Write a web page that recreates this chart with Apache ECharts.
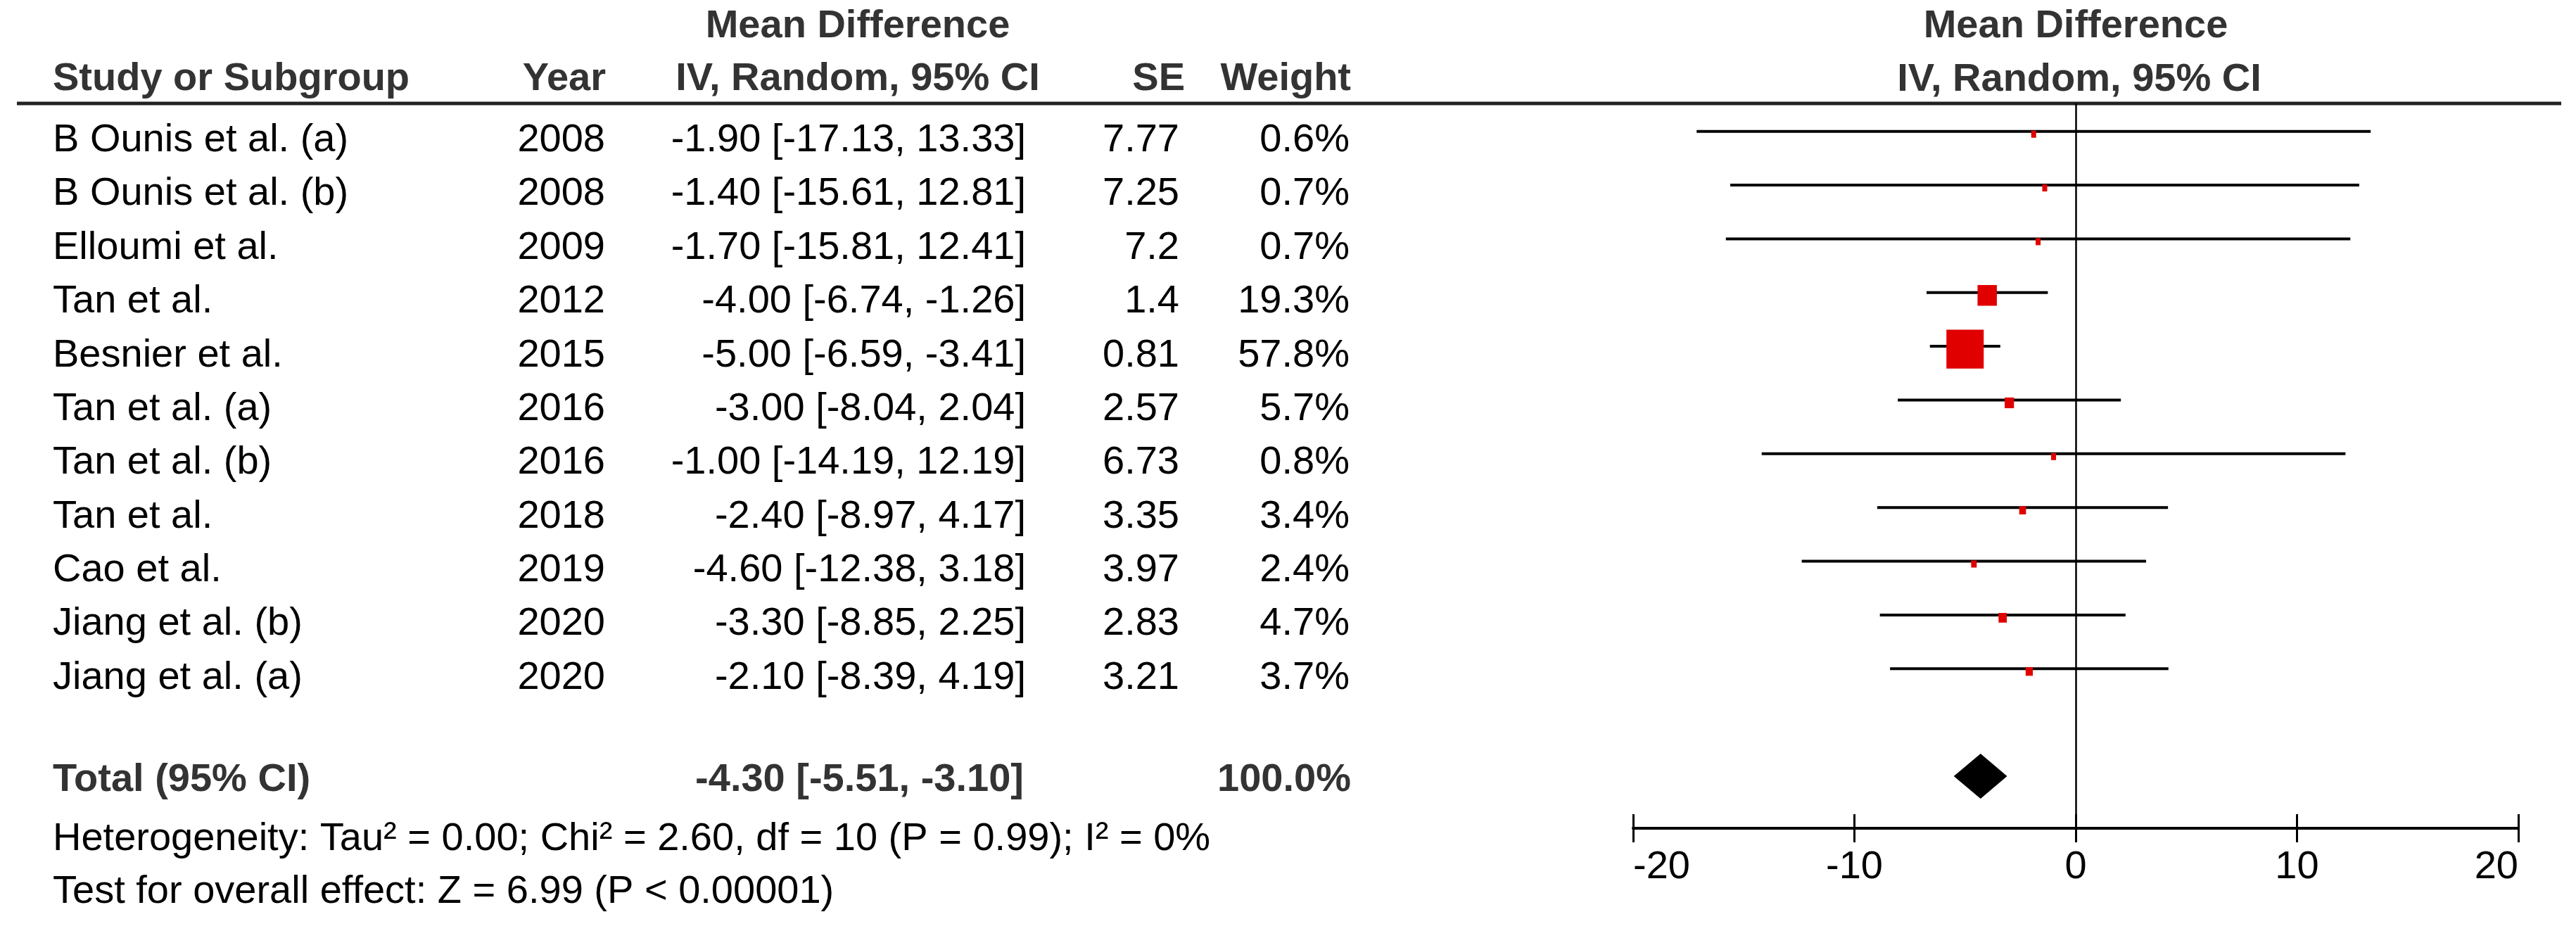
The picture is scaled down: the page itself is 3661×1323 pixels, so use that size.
<!DOCTYPE html>
<html><head><meta charset="utf-8">
<script src="https://cdn.jsdelivr.net/npm/echarts@6/dist/echarts.min.js"></script>
<style>html,body{margin:0;padding:0;background:#fff}#c{width:3661px;height:1323px}</style>
</head><body><div id="c"></div>
<script>
// ---- data ----
const studies = ["B Ounis et al. (a)", "B Ounis et al. (b)", "Elloumi et al.", "Tan et al.", "Besnier et al.", "Tan et al. (a)", "Tan et al. (b)", "Tan et al.", "Cao et al.", "Jiang et al. (b)", "Jiang et al. (a)"];
const years = [2008, 2008, 2009, 2012, 2015, 2016, 2016, 2018, 2019, 2020, 2020];
const meanDiff = [-1.90, -1.40, -1.70, -4.00, -5.00, -3.00, -1.00, -2.40, -4.60, -3.30, -2.10];
const ciLow = [-17.13, -15.61, -15.81, -6.74, -6.59, -8.04, -14.19, -8.97, -12.38, -8.85, -8.39];
const ciHigh = [13.33, 12.81, 12.41, -1.26, -3.41, 2.04, 12.19, 4.17, 3.18, 2.25, 4.19];
const seValues = [7.77, 7.25, 7.2, 1.4, 0.81, 2.57, 6.73, 3.35, 3.97, 2.83, 3.21];
const weights = [0.6, 0.7, 0.7, 19.3, 57.8, 5.7, 0.8, 3.4, 2.4, 4.7, 3.7];
const totalMd = -4.30, totalLo = -5.51, totalHi = -3.10, totalWeight = 100.0;
const totalRow = 12;
const xTickMin = -20, xTickMax = 20, xTickStep = 10;
const headerLeft1 = "Mean Difference";
const headerLeft2 = ["Study or Subgroup", "Year", "IV, Random, 95% CI", "SE", "Weight"];
const headerRight = ["Mean Difference", "IV, Random, 95% CI"];
const totalLabel = "Total (95% CI)";
const heterogeneityText = "Heterogeneity: Tau\u00B2 = 0.00; Chi\u00B2 = 2.60, df = 10 (P = 0.99); I\u00B2 = 0%";
const overallText = "Test for overall effect: Z = 6.99 (P < 0.00001)";

// ---- styles ----
const FF = '"Liberation Sans", Arial, sans-serif';
const FS = 56;
const fontN = FS + 'px ' + FF;
const fontB = 'bold ' + FS + 'px ' + FF;
const ciText = (m, l, h) => m.toFixed(2) + ' [' + l.toFixed(2) + ', ' + h.toFixed(2) + ']';

function txt(x, y, text, align, bold, color) {
  return {type: 'text', x: x, y: y, silent: true,
    style: {text: text, font: bold ? fontB : fontN, fill: color || (bold ? '#333' : '#000'),
      align: align, textAlign: align, verticalAlign: 'middle', textVerticalAlign: 'middle'}};
}

const chart = echarts.init(document.getElementById('c'), null, {renderer: 'canvas'});

const option = {
  backgroundColor: '#fff',
  animation: false,
  grid: {left: 2321, right: 82, top: 147, bottom: 146, containLabel: false},
  xAxis: [{
    type: 'value', min: xTickMin, max: xTickMax, interval: xTickStep, position: 'bottom',
    axisLine: {show: true, onZero: false, lineStyle: {color: '#000', width: 4}},
    axisTick: {show: true, inside: false, length: 20, lineStyle: {color: '#000', width: 3}},
    axisLabel: {show: true, margin: 28, fontSize: FS, fontFamily: FF, color: '#000',
      alignMinLabel: 'left', alignMaxLabel: 'right'},
    splitLine: {show: false}
  }, {
    type: 'value', min: xTickMin, max: xTickMax, interval: xTickStep, position: 'bottom', gridIndex: 0,
    axisLine: {show: false, onZero: false},
    axisTick: {show: true, inside: true, length: 20, lineStyle: {color: '#000', width: 3}},
    axisLabel: {show: false}, splitLine: {show: false}
  }],
  yAxis: {type: 'value', inverse: true, min: -0.52, max: 12.97, show: false,
    axisLine: {onZero: false}},
  graphic: [
    {type: 'line', silent: true, shape: {x1: 24, y1: 147, x2: 3640, y2: 147}, style: {stroke: '#222', lineWidth: 5}},
    txt(1219, 38, headerLeft1, 'center', true),
    txt(75, 113, headerLeft2[0], 'left', true),
    txt(861, 113, headerLeft2[1], 'right', true),
    txt(1219, 113, headerLeft2[2], 'center', true),
    txt(1684, 113, headerLeft2[3], 'right', true),
    txt(1920, 113, headerLeft2[4], 'right', true),
    txt(2950, 38, headerRight[0], 'center', true),
    txt(2955, 114, headerRight[1], 'center', true),
    txt(75, 1193, heterogeneityText, 'left', false),
    txt(75, 1268, overallText, 'left', false)
  ],
  series: [
    {
      // study rows: CI lines + weighted squares
      type: 'custom', coordinateSystem: 'cartesian2d', silent: true, clip: false, z: 3,
      data: studies.map((s, i) => [i, ciLow[i], ciHigh[i], meanDiff[i], weights[i]]),
      encode: {x: [1, 2, 3], y: 0},
      renderItem: function (params, api) {
        const r = api.value(0), lo = api.value(1), hi = api.value(2), m = api.value(3), w = api.value(4);
        const p1 = api.coord([lo, r]), p2 = api.coord([hi, r]), pc = api.coord([m, r]);
        const side = Math.max(7, 4.65 * Math.pow(w, 0.6));
        const h = Math.max(10, side + 2);
        return {type: 'group', children: [
          {type: 'line', shape: {x1: p1[0], y1: p1[1], x2: p2[0], y2: p2[1]}, style: {stroke: '#000', lineWidth: 4}},
          {type: 'rect', shape: {x: pc[0] - side / 2, y: pc[1] - h / 2 + 4, width: side, height: h}, style: {fill: '#e00000'}}
        ]};
      }
    },
    {
      // table text rows, aligned to the same row scale
      type: 'custom', coordinateSystem: 'cartesian2d', silent: true, clip: false, z: 4,
      data: studies.map((s, i) => [0, i]),
      encode: {x: 0, y: 1},
      renderItem: function (params, api) {
        const i = params.dataIndex;
        const y = api.coord([0, api.value(1)])[1] + 13;
        return {type: 'group', children: [
          txt(75, y, studies[i], 'left', false),
          txt(860, y, String(years[i]), 'right', false),
          txt(1458, y, ciText(meanDiff[i], ciLow[i], ciHigh[i]), 'right', false),
          txt(1676, y, String(seValues[i]), 'right', false),
          txt(1918, y, weights[i].toFixed(1) + '%', 'right', false)
        ]};
      }
    },
    {
      // overall diamond + total row text + zero line
      type: 'custom', coordinateSystem: 'cartesian2d', silent: true, clip: false, z: 3,
      data: [[totalRow, totalLo, totalMd, totalHi, totalWeight]],
      encode: {x: [1, 2, 3], y: 0},
      renderItem: function (params, api) {
        const r = api.value(0);
        const pl = api.coord([api.value(1), r]), pm = api.coord([api.value(2), r]), ph = api.coord([api.value(3), r]);
        const hh = 32;
        const ty = pm[1] + 6;
        return {type: 'group', children: [
          {type: 'polygon', shape: {points: [[pl[0], pm[1]], [pm[0], pm[1] - hh], [ph[0], pm[1]], [pm[0], pm[1] + hh]]}, style: {fill: '#000'}},
          txt(75, ty, totalLabel, 'left', true),
          txt(1455, ty, ciText(api.value(2), api.value(1), api.value(3)), 'right', true),
          txt(1920, ty, api.value(4).toFixed(1) + '%', 'right', true)
        ]};
      },
      markLine: {
        silent: true, symbol: 'none', animation: false,
        label: {show: false},
        lineStyle: {color: '#000', width: 2.5, type: 'solid'},
        data: [{xAxis: 0}]
      }
    }
  ]
};
chart.setOption(option);
</script>
</body></html>
